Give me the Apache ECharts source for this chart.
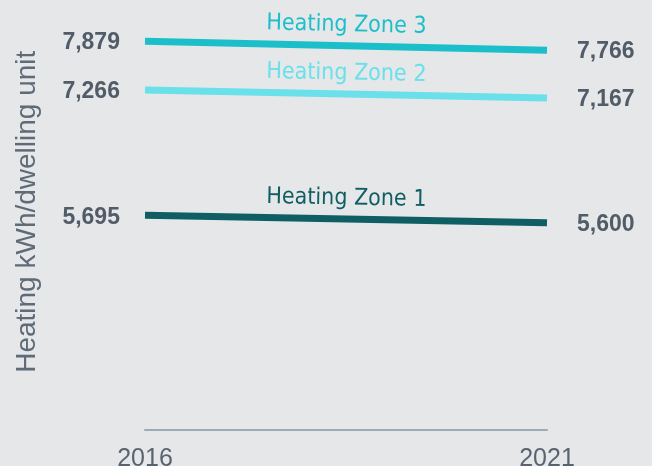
<!DOCTYPE html>
<html>
<head>
<meta charset="utf-8">
<script src="https://cdn.jsdelivr.net/npm/echarts@6/dist/echarts.min.js"></script>
<style>
  html, body { margin: 0; padding: 0; background: #e5e7e9; }
  #chart { width: 652px; height: 466px; }
</style>
</head>
<body>
<div id="chart"></div>
<script>
var years = ['2016', '2021']
var zone1 = [5695, 5600]
var zone2 = [7266, 7167]
var zone3 = [7879, 7766]
var seriesNames = ['Heating Zone 1', 'Heating Zone 2', 'Heating Zone 3']
var colors = ['#0f5e63', '#69e0ea', '#1bbfca']

var chart = echarts.init(document.getElementById('chart'))

function fmt (v) {
  return v.toLocaleString('en-US')
}

function makeSeries (name, data, color) {
  // first value label on the left, last one on the right
  var items = data.map(function (v, i) {
    return {
      value: v,
      label: i === 0 ? { position: 'left', distance: 25 } : { position: 'right', distance: 30 }
    }
  })
  return {
    name: name,
    type: 'line',
    data: items,
    symbol: 'circle',
    symbolSize: 0.1,
    showSymbol: true,
    itemStyle: { color: color },
    lineStyle: { color: color, width: 7, cap: 'butt' },
    label: {
      show: true,
      fontFamily: 'Liberation Sans',
      fontWeight: 'bold',
      fontSize: 23,
      color: '#515c68',
      offset: [0, 2],
      formatter: function (p) { return fmt(p.value) }
    },
    markLine: {
      silent: true,
      symbol: 'none',
      lineStyle: { width: 1, color: 'rgba(0,0,0,0)' },
      label: {
        show: true,
        position: 'insideMiddleTop',
        formatter: name,
        color: color,
        fontFamily: '"DejaVu Sans Condensed", "Liberation Sans", sans-serif',
        fontSize: 23,
        distance: 9
      },
      data: [[{ coord: [years[0], data[0]] }, { coord: [years[1], data[1]] }]]
    }
  }
}

chart.setOption({
  backgroundColor: '#e5e7e9',
  animation: false,
  grid: { left: 145, right: 105, top: 31.5, bottom: 36, outerBoundsMode: 'none' },
  xAxis: {
    type: 'category',
    data: years,
    boundaryGap: false,
    axisTick: { show: false },
    axisLine: { lineStyle: { color: '#9eaab5', width: 2 } },
    axisLabel: { color: '#5a6470', fontSize: 25, fontFamily: 'Liberation Sans', margin: 17 }
  },
  yAxis: {
    type: 'value',
    min: 3000,
    max: 8000,
    axisLabel: { show: false },
    axisLine: { show: false },
    axisTick: { show: false },
    splitLine: { show: false },
    name: 'Heating kWh/dwelling unit',
    nameLocation: 'middle',
    nameRotate: 90,
    nameGap: 104,
    nameTextStyle: { color: '#5f6b77', fontSize: 28, fontFamily: 'Liberation Sans', padding: [0, 0, 0, 38] }
  },
  series: [
    makeSeries(seriesNames[0], zone1, colors[0]),
    makeSeries(seriesNames[1], zone2, colors[1]),
    makeSeries(seriesNames[2], zone3, colors[2])
  ]
})
</script>
</body>
</html>
